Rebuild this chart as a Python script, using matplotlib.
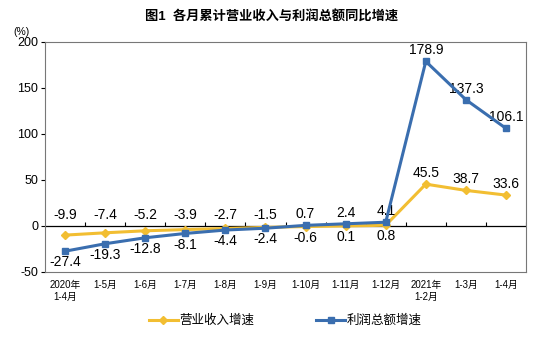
import numpy as np
import matplotlib.pyplot as plt

plt.rcParams['font.family'] = ['Liberation Sans', 'Noto Sans CJK SC', 'DejaVu Sans']

# 数据
categories = ['2020年\n1-4月', '1-5月', '1-6月', '1-7月', '1-8月', '1-9月', '1-10月',
              '1-11月', '1-12月', '2021年\n1-2月', '1-3月', '1-4月']
revenue = [-9.9, -7.4, -5.2, -3.9, -2.7, -1.5, -0.6, 0.1, 0.8, 45.5, 38.7, 33.6]
profit = [-27.4, -19.3, -12.8, -8.1, -4.4, -2.4, 0.7, 2.4, 4.1, 178.9, 137.3, 106.1]
y_ticks = [-50, 0, 50, 100, 150, 200]

YELLOW = '#F2BE32'
BLUE = '#3A6EAF'

fig = plt.figure(figsize=(5.43, 3.37), dpi=100)
ax = fig.add_axes([45 / 543, 1 - 272 / 337, 481 / 543, 230 / 337])

x = np.arange(len(categories))
ax.plot(x, revenue, color=YELLOW, lw=2.2, marker='D', ms=4, label='营业收入增速', zorder=3)
ax.plot(x, profit, color=BLUE, lw=2.2, marker='s', ms=4, label='利润总额增速', zorder=4)

# 数据标签：较高者在上，较低者在下
for i in range(len(x)):
    r, p = revenue[i], profit[i]
    if i >= 9:
        ax.annotate(f'{r}', (x[i], r), xytext=(0, 8), textcoords='offset points',
                    ha='center', va='center', fontsize=10)
        ax.annotate(f'{p}', (x[i], p), xytext=(0, 8), textcoords='offset points',
                    ha='center', va='center', fontsize=10)
    else:
        hi, lo = max(r, p), min(r, p)
        ax.annotate(f'{hi}', (x[i], max(hi, 0)), xytext=(0, 8), textcoords='offset points',
                    ha='center', va='center', fontsize=10)
        ax.annotate(f'{lo}', (x[i], lo), xytext=(0, -8), textcoords='offset points',
                    ha='center', va='center', fontsize=10)

ax.axhline(0, color='black', lw=0.9, zorder=2)
# 零线上的分类刻度
ax.vlines(np.arange(len(x)) + 0.5, 0, 4, color='black', lw=0.8)

ax.set_xlim(-0.5, len(x) - 0.5)
ax.set_ylim(-50, 200)
ax.set_yticks(y_ticks)
ax.set_yticklabels([str(v) for v in y_ticks], fontsize=9)
ax.set_xticks(x)
ax.set_xticklabels(categories, fontsize=7)
ax.tick_params(axis='x', length=0, pad=6)
ax.tick_params(axis='y', length=3, direction='out', pad=2)
for s in ax.spines.values():
    s.set_color('#777777')
    s.set_linewidth(0.8)

fig.text(22 / 543, 1 - 32 / 337, '(%)', fontsize=7.5, ha='center', va='center')
fig.text(0.5, 1 - 17 / 337, '图1  各月累计营业收入与利润总额同比增速',
         fontsize=9.5, fontweight='bold', ha='center', va='center')

fig.legend(loc='center', bbox_to_anchor=(285 / 543, 1 - 321 / 337), ncol=2, frameon=False,
           fontsize=9, columnspacing=5, handlelength=2.3, handletextpad=0.1)

fig.savefig('out.png', dpi=100)
